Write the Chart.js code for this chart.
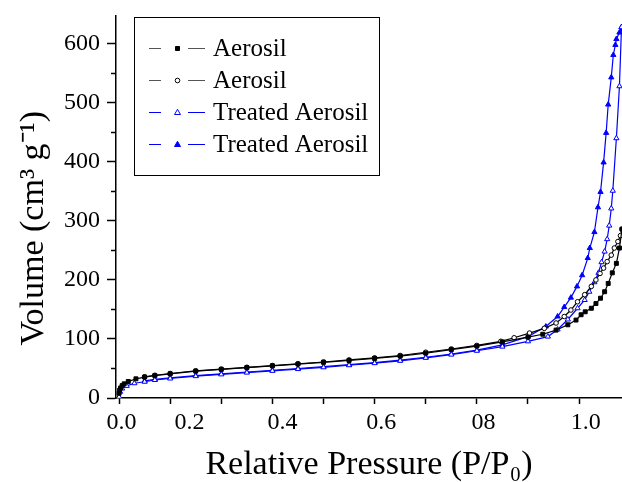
<!DOCTYPE html>
<html>
<head>
<meta charset="utf-8">
<script src="https://cdn.jsdelivr.net/npm/chart.js@4.4.1/dist/chart.umd.min.js"></script>
<style>
    html, body { margin: 0; padding: 0; background: #fff; overflow: hidden; }
</style>
</head>
<body>
<canvas id="chart" width="622" height="482"></canvas>
<script>

// Aerosil, adsorption (filled squares)
var aerosilAdsP = [0.0, 0.001, 0.003, 0.006, 0.01, 0.018, 0.033, 0.05, 0.07, 0.1, 0.15, 0.2, 0.25, 0.3, 0.35, 0.4, 0.45, 0.5, 0.55, 0.6, 0.65, 0.7, 0.75, 0.8, 0.829, 0.855, 0.878, 0.894, 0.904, 0.912, 0.924, 0.933, 0.942, 0.95, 0.957, 0.965, 0.973, 0.979, 0.984];
var aerosilAdsV = [8, 13, 17, 21, 24, 28, 32.5, 35.5, 38, 41, 45.5, 48.5, 51.5, 54.5, 57.5, 60.5, 63.5, 67, 71, 76, 82, 88, 95, 103, 108, 115, 124, 132, 141, 146, 152, 160, 169, 180, 194, 212, 228, 254, 286];

// Aerosil, desorption (open circles)
var aerosilDesP = [0.984, 0.981, 0.976, 0.969, 0.963, 0.955, 0.948, 0.941, 0.933, 0.924, 0.911, 0.897, 0.884, 0.871, 0.855, 0.832, 0.803, 0.773, 0.747, 0.7, 0.65, 0.6, 0.55, 0.5, 0.45, 0.4, 0.35, 0.3, 0.25, 0.2, 0.15, 0.1, 0.07, 0.05];
var aerosilDesV = [286, 275, 265, 254, 242, 231, 220, 211, 200, 189, 175, 163, 149, 138, 127, 118, 110, 102, 96, 89, 83, 77.5, 72, 68, 64.5, 61, 58, 55, 52, 49, 46, 41.5, 38.5, 36];

// Treated Aerosil, adsorption (open triangles)
var treatedAdsP = [0.0, 0.002, 0.006, 0.015, 0.03, 0.05, 0.07, 0.1, 0.15, 0.2, 0.25, 0.3, 0.35, 0.4, 0.45, 0.5, 0.55, 0.6, 0.65, 0.7, 0.75, 0.8, 0.839, 0.858, 0.878, 0.897, 0.911, 0.92, 0.93, 0.938, 0.944, 0.95, 0.955, 0.959, 0.963, 0.966, 0.973, 0.979, 0.983];
var treatedAdsV = [2, 10.5, 16, 20.5, 25, 27.5, 30.5, 33, 37, 40, 43, 46, 49, 52, 55.5, 59, 63, 68, 73.5, 80, 87, 96, 104, 116, 133, 152, 166, 180, 196, 212, 230, 248, 269, 292, 321, 351, 440, 528, 628];

// Treated Aerosil, desorption (filled triangles)
var treatedDesP = [0.983, 0.979, 0.973, 0.971, 0.967, 0.963, 0.957, 0.953, 0.948, 0.942, 0.937, 0.93, 0.921, 0.917, 0.906, 0.896, 0.884, 0.871, 0.858, 0.835, 0.8, 0.75, 0.7, 0.65, 0.6, 0.55, 0.5, 0.45, 0.4, 0.35, 0.3, 0.25, 0.2, 0.15, 0.1, 0.07, 0.05];
var treatedDesV = [628, 619, 608, 598, 581, 543, 497, 449, 399, 349, 323, 281, 254, 237, 208, 189, 170, 154, 138, 121, 104, 90, 81, 74.5, 69, 64, 60, 56.5, 53, 50, 47, 44, 41, 38, 34, 31.5, 29];

var seriesNames = ['Aerosil', 'Aerosil', 'Treated Aerosil', 'Treated Aerosil'];

// axis ticks
var xTickVals = [0, 0.1, 0.2, 0.3, 0.4, 0.5, 0.6, 0.7, 0.8, 0.9];
var xLabelPos = [0.005, 0.138, 0.32, 0.513, 0.713, 0.913];
var xTickLabels = ['0.0', '0.2', '0.4', '0.6', '08', '1.0'];
var yTickVals = [0, 100, 200, 300, 400, 500, 600];
var yMinorVals = [50, 150, 250, 350, 450, 550];

var X_MIN = -0.006, X_MAX = 0.984;
var SERIF = "'Liberation Serif', 'Times New Roman', serif";

function toPoints(px, py) {
    return px.map(function (p, i) { return { x: p, y: py[i] }; });
}

// small tick marks between the labelled ones on the y axis
var minorTicks = {
    id: 'minorTicks',
    afterDraw: function (chart) {
        var c = chart.ctx, y = chart.scales.y, left = chart.chartArea.left;
        c.save();
        c.strokeStyle = '#000';
        c.lineWidth = 1.5;
        yMinorVals.forEach(function (v) {
            var py = Math.round(y.getPixelForValue(v)) + 0.5;
            c.beginPath();
            c.moveTo(left - 5, py);
            c.lineTo(left, py);
            c.stroke();
        });
        c.restore();
    }
};

function drawMarker(c, style, filled, color, x, y) {
    c.beginPath();
    if (style === 'rect') {
        c.rect(x - 2, y - 2, 4, 4);
    } else if (style === 'circle') {
        c.arc(x, y, 2.3, 0, Math.PI * 2);
    } else {
        c.moveTo(x, y - 3.2);
        c.lineTo(x + 3, y + 2);
        c.lineTo(x - 3, y + 2);
        c.closePath();
    }
    c.fillStyle = filled ? color : '#fff';
    c.fill();
    c.strokeStyle = color;
    c.lineWidth = 1;
    c.stroke();
}

// boxed legend inside the plot: line - marker - line, then the label
var boxLegend = {
    id: 'boxLegend',
    afterDatasetsDraw: function (chart) {
        var c = chart.ctx;
        c.save();
        c.fillStyle = '#fff';
        c.fillRect(134.5, 17.5, 245, 158);
        c.strokeStyle = '#000';
        c.lineWidth = 1;
        c.strokeRect(134.5, 17.5, 245, 158);
        c.font = '25px ' + SERIF;
        c.textBaseline = 'middle';
        chart.data.datasets.forEach(function (ds, i) {
            var y = 48 + i * 32;
            c.strokeStyle = ds.borderColor === '#000000' ? '#555' : ds.borderColor;
            c.lineWidth = 1;
            c.beginPath();
            c.moveTo(149, y + 0.5); c.lineTo(161, y + 0.5);
            c.moveTo(188, y + 0.5); c.lineTo(205, y + 0.5);
            c.stroke();
            drawMarker(c, ds.pointStyle, ds.pointBackgroundColor !== '#fff', ds.borderColor, 177.5, y + 0.5);
            c.fillStyle = '#000';
            c.fillText(ds.label, 213, y + 1);
        });
        c.restore();
    }
};

function makeSet(label, pts, color, style, filled, radius) {
    return {
        label: label,
        data: pts,
        borderColor: color,
        backgroundColor: color,
        borderWidth: 1.2,
        pointStyle: style,
        pointRadius: radius,
        pointBorderWidth: 1,
        pointBorderColor: color,
        pointBackgroundColor: filled ? color : '#fff',
        tension: 0,
        fill: false
    };
}

var config = {
    type: 'scatter',
    data: {
        datasets: [
            makeSet(seriesNames[0], toPoints(aerosilAdsP, aerosilAdsV), '#000000', 'rect', true, 2.8),
            makeSet(seriesNames[1], toPoints(aerosilDesP, aerosilDesV), '#000000', 'circle', false, 2.3),
            makeSet(seriesNames[2], toPoints(treatedAdsP, treatedAdsV), '#0000ff', 'triangle', false, 3),
            makeSet(seriesNames[3], toPoints(treatedDesP, treatedDesV), '#0000ff', 'triangle', true, 3)
        ]
    },
    options: {
        responsive: false,
        animation: false,
        showLine: true,
        layout: { autoPadding: false, padding: { top: 16, left: 0, right: 0, bottom: 0 } },
        plugins: {
            legend: { display: false },
            tooltip: { enabled: false }
        },
        scales: {
            x: {
                type: 'linear',
                position: 'bottom',
                weight: 0,
                min: X_MIN,
                max: X_MAX,
                afterBuildTicks: function (s) {
                    s.ticks = xTickVals.map(function (v) { return { value: v }; });
                },
                ticks: { display: false },
                grid: { drawOnChartArea: false, drawTicks: true, tickLength: 6, tickColor: '#000', tickWidth: 1.5 },
                border: { display: true, color: '#000', width: 1.5 },
                afterFit: function (s) { s.height = 6; s.paddingLeft = 0; s.paddingRight = 0; }
            },
            xLab: {
                type: 'linear',
                position: 'bottom',
                weight: 1,
                min: X_MIN,
                max: X_MAX,
                afterBuildTicks: function (s) {
                    s.ticks = xLabelPos.map(function (v) { return { value: v }; });
                },
                ticks: {
                    autoSkip: false,
                    maxRotation: 0,
                    padding: 4,
                    color: '#000',
                    font: { family: SERIF, size: 24 },
                    callback: function (v, i) { return xTickLabels[i]; }
                },
                grid: { display: false, drawTicks: false },
                border: { display: false },
                title: {
                    display: true,
                    text: 'Relative Pressure (P/P\u2080)',
                    color: '#000',
                    font: { family: SERIF, size: 34, lineHeight: 1 },
                    padding: { top: 0, bottom: 0 }
                },
                afterFit: function (s) { s.height = 78; s.paddingLeft = 0; s.paddingRight = 0; }
            },
            y: {
                type: 'linear',
                position: 'left',
                min: 0,
                max: 647,
                afterBuildTicks: function (s) {
                    s.ticks = yTickVals.map(function (v) { return { value: v }; });
                },
                ticks: {
                    padding: 7,
                    color: '#000',
                    font: { family: SERIF, size: 24 }
                },
                grid: { drawOnChartArea: false, drawTicks: true, tickLength: 9, tickColor: '#000', tickWidth: 1.5 },
                border: { display: true, color: '#000', width: 1.5 },
                title: {
                    display: true,
                    text: 'Volume (cm\u00b3 g\u207b\u00b9)\u00a0\u00a0\u00a0\u00a0\u00a0',
                    color: '#000',
                    font: { family: SERIF, size: 34, lineHeight: 1 },
                    padding: { top: 17, bottom: 0 }
                },
                afterFit: function (s) { s.width = 116; s.paddingTop = 0; s.paddingBottom = 0; }
            }
        }
    },
    plugins: [minorTicks, boxLegend]
};

var ctx = document.getElementById('chart').getContext('2d');
var chart = new Chart(ctx, config);

</script>
</body>
</html>
